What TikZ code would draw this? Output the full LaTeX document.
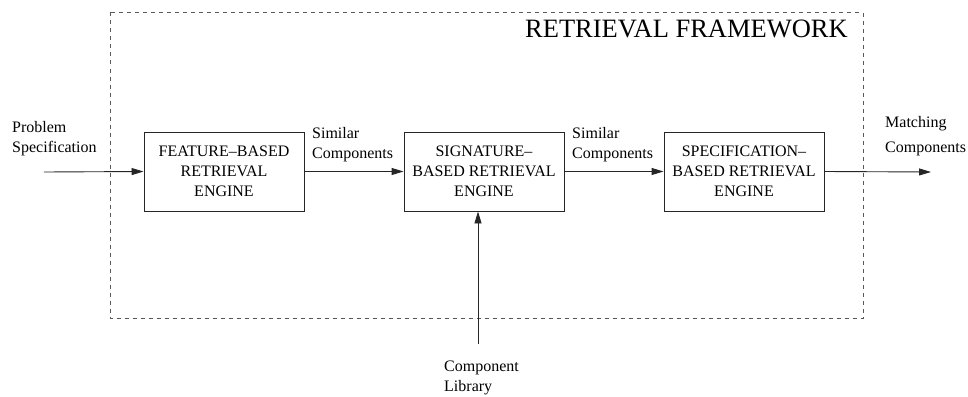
\documentclass[tikz,border=0pt]{standalone}
\usepackage{fontspec}
\setmainfont{Liberation Serif}
\usetikzlibrary{arrows.meta}
\begin{document}
\begin{tikzpicture}[x=1pt,y=-1pt,
  engine/.style={draw=black!85,line width=0.9pt,minimum width=160pt,minimum height=79pt,
    inner sep=0pt,align=center,font=\fontsize{16}{20}\selectfont},
  flowtext/.style={inner sep=0pt,align=left,anchor=north west,font=\fontsize{16}{20}\selectfont},
  flow/.style={draw=black!85,line width=0.9pt,-{Triangle[length=12pt,width=7pt]}},
  frame/.style={draw=black!65,line width=0.9pt,dash pattern=on 4pt off 4pt}]
\useasboundingbox (0,0) rectangle (968,396);

% framework boundary and its title
\draw[frame] (110,12.5) rectangle (863,318);
\node[inner sep=0pt,anchor=base east,font=\fontsize{26.5}{30}\selectfont] (title) at (848,37.3) {RETRIEVAL FRAMEWORK};

% the three retrieval engines
\node[engine] (feat) at (224,171.5) {FEATURE\textendash BASED\\RETRIEVAL\\ENGINE};
\node[engine] (sig)  at (484,171.5) {SIGNATURE\textendash\\BASED RETRIEVAL\\ENGINE};
\node[engine] (spec) at (744,171.5) {SPECIFICATION\textendash\\BASED RETRIEVAL\\ENGINE};

% free ends of the outer connectors
\coordinate (in)  at (44,172);
\coordinate (out) at (931,172);
\coordinate (lib) at (478,344);

% connectors
\draw[flow] (in) -- (feat.west);
\draw[flow] (feat.east) -- (sig.west);
\draw[flow] (sig.east) -- (spec.west);
\draw[flow] (spec.east) -- (out);
\draw[flow] (lib) -- (lib |- sig.south);

% connector labels
\node[flowtext] (lprob) at (12,121.2) {Problem\\Specification};
\node[flowtext] (lsim1) at (312,127.2) {Similar\\Components};
\node[flowtext] (lsim2) at (572,127.2) {Similar\\Components};
\node[flowtext,font=\fontsize{16}{25}\selectfont] (lmatch) at (885,116.2) {Matching\\Components};
\node[flowtext] (llib) at (444,361.2) {Component\\Library};
\end{tikzpicture}
\end{document}
